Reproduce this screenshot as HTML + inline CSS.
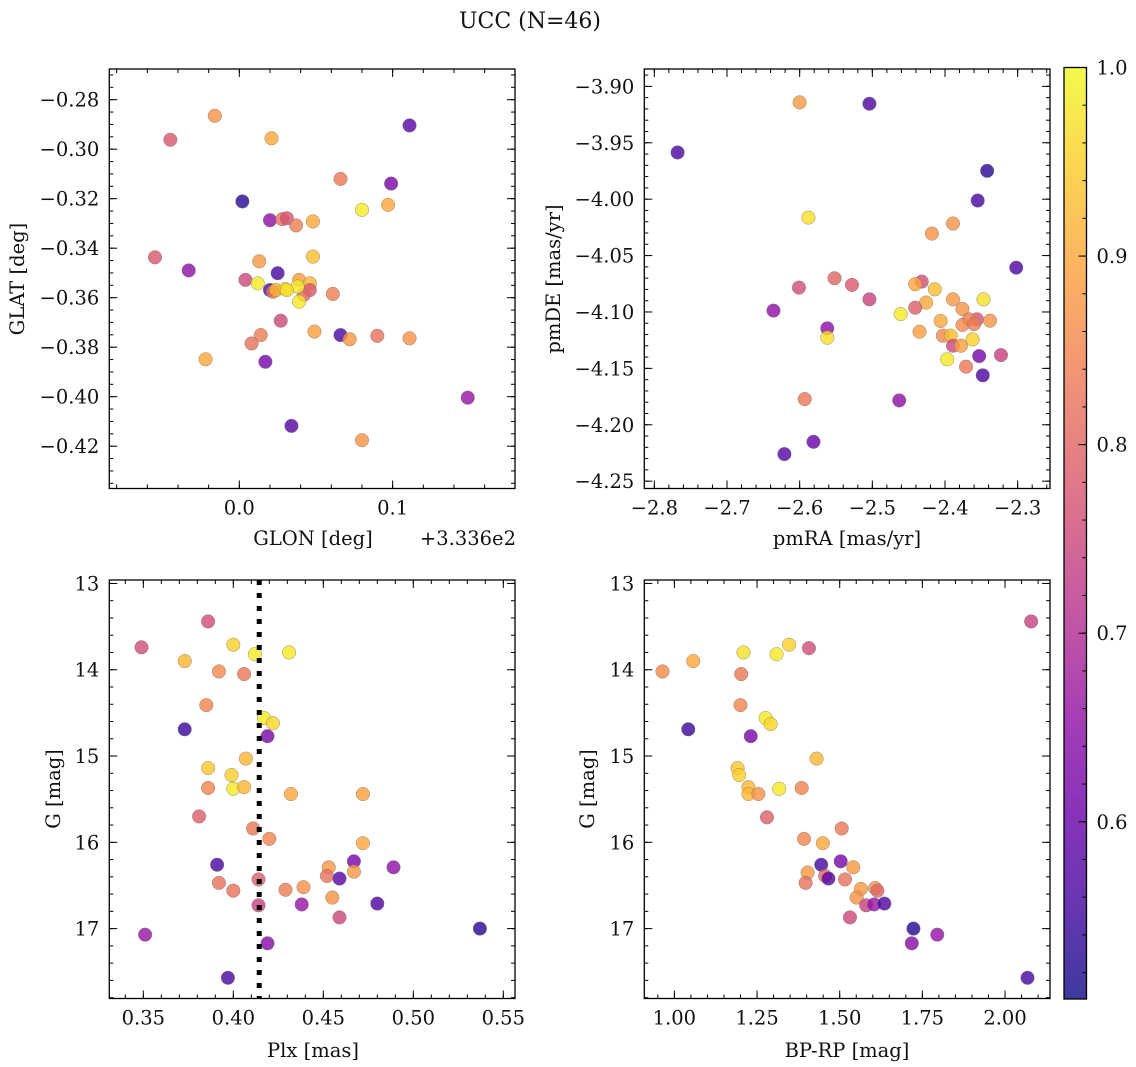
<!DOCTYPE html>
<html><head><meta charset="utf-8"><style>
html,body{margin:0;padding:0;background:#fff;}
svg{display:block;font-family:"DejaVu Serif","Liberation Serif",serif;}
</style></head><body>
<svg id="fig" width="1136" height="1067" viewBox="0 0 1136 1067" xmlns="http://www.w3.org/2000/svg">
<text x="530" y="28" font-size="22" text-anchor="middle" fill="#111">UCC (N=46)</text>
</svg>
<script>
// ---------- data (one entry per member star) ----------
const glonOffset = [-0.016,-0.045,0.021,0.111,0.066,0.099,0.002,0.080,0.097,0.020,0.028,0.031,0.037,0.048,-0.055,-0.033,0.004,0.013,0.025,0.048,0.012,0.020,0.022,0.024,0.030,0.039,0.046,0.046,0.042,0.038,0.039,0.061,0.027,0.049,0.014,0.066,0.072,0.090,0.111,0.008,-0.022,0.017,0.149,0.034,0.080,0.031];
const glat = [-0.2865,-0.2962,-0.2956,-0.2904,-0.3120,-0.3139,-0.3211,-0.3245,-0.3225,-0.3287,-0.3283,-0.3279,-0.3308,-0.3292,-0.3437,-0.3490,-0.3528,-0.3453,-0.3501,-0.3434,-0.3542,-0.3569,-0.3576,-0.3569,-0.3565,-0.3528,-0.3542,-0.3569,-0.3589,-0.3555,-0.3616,-0.3585,-0.3693,-0.3737,-0.3751,-0.3751,-0.3768,-0.3754,-0.3764,-0.3785,-0.3849,-0.3859,-0.4004,-0.4118,-0.4176,-0.3569];
const probSky = [0.87,0.78,0.90,0.58,0.83,0.62,0.53,0.98,0.90,0.65,0.82,0.77,0.84,0.90,0.78,0.65,0.75,0.88,0.56,0.93,0.98,0.56,0.83,0.92,0.96,0.89,0.92,0.78,0.80,0.98,0.98,0.84,0.75,0.89,0.84,0.56,0.88,0.82,0.87,0.82,0.90,0.62,0.66,0.58,0.87,0.97];

const pmRA = [-2.768,-2.600,-2.504,-2.342,-2.355,-2.588,-2.389,-2.418,-2.302,-2.552,-2.528,-2.601,-2.504,-2.636,-2.432,-2.441,-2.414,-2.426,-2.441,-2.461,-2.389,-2.347,-2.376,-2.356,-2.367,-2.338,-2.406,-2.376,-2.360,-2.562,-2.562,-2.435,-2.403,-2.392,-2.362,-2.389,-2.378,-2.353,-2.323,-2.397,-2.371,-2.348,-2.593,-2.463,-2.581,-2.621];
const pmDE = [-3.9586,-3.9142,-3.9154,-3.9749,-4.0012,-4.0163,-4.0216,-4.0305,-4.0607,-4.0701,-4.0760,-4.0784,-4.0888,-4.0988,-4.0731,-4.0754,-4.0799,-4.0917,-4.0962,-4.1018,-4.0888,-4.0888,-4.0973,-4.1065,-4.1065,-4.1077,-4.1080,-4.1115,-4.1107,-4.1145,-4.1228,-4.1175,-4.1210,-4.1210,-4.1243,-4.1299,-4.1299,-4.1391,-4.1382,-4.1420,-4.1485,-4.1562,-4.1772,-4.1784,-4.2151,-4.2260];
const probPM = [0.57,0.88,0.57,0.53,0.56,0.97,0.87,0.87,0.57,0.80,0.78,0.76,0.74,0.65,0.76,0.90,0.93,0.90,0.79,0.98,0.88,0.97,0.87,0.77,0.84,0.87,0.90,0.86,0.84,0.65,0.97,0.89,0.86,0.93,0.95,0.75,0.89,0.62,0.74,0.98,0.83,0.57,0.83,0.65,0.60,0.58];

const plx = [0.386,0.349,0.400,0.412,0.431,0.373,0.392,0.406,0.385,0.373,0.417,0.422,0.419,0.407,0.386,0.399,0.400,0.406,0.386,0.432,0.472,0.381,0.411,0.420,0.472,0.391,0.467,0.453,0.489,0.467,0.452,0.459,0.392,0.400,0.414,0.429,0.439,0.455,0.414,0.438,0.480,0.459,0.351,0.537,0.419,0.397];
const gPlx = [13.44,13.74,13.71,13.82,13.80,13.90,14.02,14.05,14.41,14.69,14.56,14.62,14.77,15.03,15.14,15.22,15.38,15.36,15.37,15.44,15.44,15.70,15.84,15.96,16.01,16.26,16.22,16.29,16.29,16.34,16.39,16.42,16.47,16.56,16.43,16.55,16.52,16.64,16.73,16.72,16.71,16.87,17.07,17.00,17.17,17.57];
const probPlx = [0.76,0.76,0.95,0.98,0.98,0.92,0.86,0.83,0.85,0.55,0.98,0.96,0.62,0.92,0.94,0.95,0.98,0.92,0.85,0.90,0.89,0.79,0.83,0.85,0.90,0.56,0.62,0.88,0.65,0.88,0.82,0.58,0.82,0.82,0.79,0.84,0.87,0.87,0.74,0.66,0.57,0.75,0.66,0.53,0.64,0.56];
const plxLine = 0.4144;

const bprp = [2.079,0.964,1.057,1.209,1.309,1.347,1.407,1.202,1.200,1.042,1.276,1.291,1.231,1.430,1.191,1.196,1.224,1.224,1.254,1.317,1.385,1.280,1.506,1.392,1.449,1.444,1.503,1.541,1.403,1.456,1.466,1.516,1.397,1.564,1.607,1.614,1.551,1.580,1.604,1.635,1.531,1.723,1.795,1.718,2.068];
const gCmd = [13.44,14.02,13.90,13.80,13.82,13.71,13.75,14.05,14.41,14.69,14.56,14.63,14.77,15.03,15.14,15.22,15.36,15.44,15.44,15.38,15.37,15.71,15.84,15.96,16.01,16.26,16.22,16.29,16.35,16.39,16.42,16.43,16.47,16.54,16.53,16.56,16.64,16.73,16.72,16.71,16.87,17.00,17.07,17.17,17.57];
const probCmd = [0.74,0.86,0.90,0.97,0.98,0.95,0.76,0.83,0.85,0.55,0.98,0.96,0.62,0.92,0.94,0.95,0.92,0.92,0.87,0.98,0.85,0.79,0.83,0.85,0.90,0.56,0.62,0.88,0.88,0.80,0.58,0.82,0.82,0.88,0.87,0.80,0.87,0.74,0.66,0.57,0.75,0.53,0.66,0.64,0.56];

const cbarTicks = [0.6,0.7,0.8,0.9,1.0];
const cbarMin = 0.506, cbarMax = 1.0;

// ---------- helpers ----------
const NS = "http://www.w3.org/2000/svg";
const svg = document.getElementById('fig');
const FS = 19.5;
function mk(tag, attrs, parent){const e=document.createElementNS(NS,tag);for(const k in attrs)e.setAttribute(k,attrs[k]);(parent||svg).appendChild(e);return e;}
const plasma=[[13,8,135],[65,4,157],[106,0,168],[143,13,164],[177,42,144],[204,71,120],[225,100,98],[242,132,75],[252,166,54],[252,206,37],[240,249,33]];
function cmap(p){let t=(p-cbarMin)/(cbarMax-cbarMin);t=Math.max(0,Math.min(1,t));const f=t*10,i=Math.min(9,Math.floor(f)),u=f-i;const a=plasma[i],b=plasma[i+1];return 'rgb('+[0,1,2].map(k=>Math.round(a[k]+(b[k]-a[k])*u)).join(',')+')';}
function fmt(v,d){const s=Math.abs(v).toFixed(d);return (v<-1e-9?'\u2212':'')+s;}

function panel(name, box, xd, yd, xt, yt, xMinor, yMinor, xDec, yDec){
  const g=mk('g',{});
  
  
  const sx=v=>box.x0+(v-xd[0])/(xd[1]-xd[0])*(box.x1-box.x0);
  const sy=v=>box.y0+(v-yd[0])/(yd[1]-yd[0])*(box.y1-box.y0);
  const axes=mk('g',{},g);
  
  
  const tk=(x1,y1,x2,y2)=>mk('line',{x1,y1,x2,y2,stroke:'#000','stroke-width':1},axes);
  const lo=Math.min(xd[0],xd[1]),hi=Math.max(xd[0],xd[1]);
  for(let v=Math.ceil(lo/xMinor-1e-6)*xMinor;v<=hi+1e-9;v+=xMinor){const x=sx(v);tk(x,box.y1,x,box.y1-4);tk(x,box.y0,x,box.y0+4);}
  const ylo=Math.min(yd[0],yd[1]),yhi=Math.max(yd[0],yd[1]);
  for(let v=Math.ceil(ylo/yMinor-1e-6)*yMinor;v<=yhi+1e-9;v+=yMinor){const y=sy(v);tk(box.x0,y,box.x0+4,y);tk(box.x1,y,box.x1-4,y);}
  xt.forEach(v=>{const x=sx(v);tk(x,box.y1,x,box.y1-8);tk(x,box.y0,x,box.y0+8);
    const t=mk('text',{x:x,y:box.y1+26,'font-size':FS,'text-anchor':'middle',fill:'#111'},axes);t.textContent=fmt(v,xDec);
    
    });
  yt.forEach(v=>{const y=sy(v);tk(box.x0,y,box.x0+8,y);tk(box.x1,y,box.x1-8,y);
    const t=mk('text',{x:box.x0-10,y:y+7,'font-size':FS,'text-anchor':'end',fill:'#111'},axes);t.textContent=fmt(v,yDec);
    
    });
  return {g,sx,sy,box,axes};
}
function frame(P){const r=mk('rect',{x:P.box.x0,y:P.box.y0,width:P.box.x1-P.box.x0,height:P.box.y1-P.box.y0,fill:'none',stroke:'#000','stroke-width':1.3},P.g);
  
  }
function scatter(P, xs, ys, ps){
  const layer=mk('g',{},P.g);
  
  
  xs.forEach((v,i)=>{const c=mk('circle',{cx:P.sx(v),cy:P.sy(ys[i]),r:6.8,fill:cmap(ps[i]),'fill-opacity':0.8,stroke:'#777','stroke-width':0.5,'stroke-opacity':0.8},layer);
    
    });
}
function label(txt,x,y,rot,name,anchor){const t=mk('text',{x,y,'font-size':FS,'text-anchor':anchor||'middle',fill:'#111'});
  if(rot)t.setAttribute('transform','rotate(-90 '+x+' '+y+')');t.textContent=txt;
  
  }

// ---------- panel 1: sky ----------
const P1=panel('sky-panel',{x0:109.3,x1:515,y0:69,y1:488.5},[-0.0848,0.1798],[-0.2676,-0.4371],[0,0.1],[-0.28,-0.30,-0.32,-0.34,-0.36,-0.38,-0.40,-0.42],0.02,0.005,1,2);
scatter(P1,glonOffset,glat,probSky);frame(P1);
label('GLON [deg]',313,545,false,'x-axis-title-glon');
label('+3.336e2',516,545,false,'x-offset-text','end');
label('GLAT [deg]',24,279,true,'y-axis-title-glat');

// ---------- panel 2: proper motions ----------
const P2=panel('pm-panel',{x0:644.3,x1:1050,y0:69,y1:488.5},[-2.8138,-2.2555],[-3.8846,-4.2565],[-2.8,-2.7,-2.6,-2.5,-2.4,-2.3],[-3.90,-3.95,-4.00,-4.05,-4.10,-4.15,-4.20,-4.25],0.02,0.01,1,2);
scatter(P2,pmRA,pmDE,probPM);frame(P2);
label('pmRA [mas/yr]',847,545,false,'x-axis-title-pmra');
label('pmDE [mas/yr]',560,279,true,'y-axis-title-pmde');

// ---------- panel 3: plx vs G ----------
const P3=panel('plx-panel',{x0:109.3,x1:515,y0:580,y1:998.5},[0.3311,0.5565],[12.96,17.81],[0.35,0.40,0.45,0.50,0.55],[13,14,15,16,17],0.01,0.2,2,0);
scatter(P3,plx,gPlx,probPlx);
const dl=mk('line',{x1:P3.sx(plxLine),x2:P3.sx(plxLine),y1:P3.box.y0,y2:P3.box.y1,stroke:'#000','stroke-width':5,'stroke-dasharray':'5 8'},P3.g);


frame(P3);
label('Plx [mas]',313,1057,false,'x-axis-title-plx');
label('G [mag]',60,789,true,'y-axis-title-g');

// ---------- panel 4: CMD ----------
const P4=panel('cmd-panel',{x0:644.3,x1:1050,y0:580,y1:998.5},[0.909,2.136],[12.96,17.81],[1.0,1.25,1.5,1.75,2.0],[13,14,15,16,17],0.05,0.2,2,0);
scatter(P4,bprp,gCmd,probCmd);frame(P4);
label('BP-RP [mag]',847,1057,false,'x-axis-title-bprp');
label('G [mag]',594,789,true,'y-axis-title-g-cmd');

// ---------- colorbar ----------
const cb={x0:1064,x1:1086.5,y0:67.5,y1:999};
const defs=mk('defs',{});
const grad=mk('linearGradient',{id:'cbg',x1:0,y1:1,x2:0,y2:0},defs);
for(let i=0;i<=20;i++){const p=cbarMin+(cbarMax-cbarMin)*i/20;mk('stop',{offset:(i/20),'stop-color':cmap(p),'stop-opacity':0.8},grad);}
const cbg=mk('g',{});


const cbs=v=>cb.y1-(v-cbarMin)/(cbarMax-cbarMin)*(cb.y1-cb.y0);
mk('rect',{x:cb.x0,y:cb.y0,width:cb.x1-cb.x0,height:cb.y1-cb.y0,fill:'url(#cbg)',stroke:'none'},cbg);
for(let v=0.52;v<=1.0001;v+=0.02){const y=cbs(v);mk('line',{x1:cb.x1,x2:cb.x1-4,y1:y,y2:y,stroke:'#000','stroke-width':1},cbg);}
cbarTicks.forEach(v=>{const y=cbs(v);mk('line',{x1:cb.x1,x2:cb.x1-8,y1:y,y2:y,stroke:'#000','stroke-width':1},cbg);
  const t=mk('text',{x:cb.x1+10,y:y+7,'font-size':FS,fill:'#111'},cbg);t.textContent=v.toFixed(1);
  
  });
mk('rect',{x:cb.x0,y:cb.y0,width:cb.x1-cb.x0,height:cb.y1-cb.y0,fill:'none',stroke:'#000','stroke-width':1.3},cbg);
</script>
</body></html>
